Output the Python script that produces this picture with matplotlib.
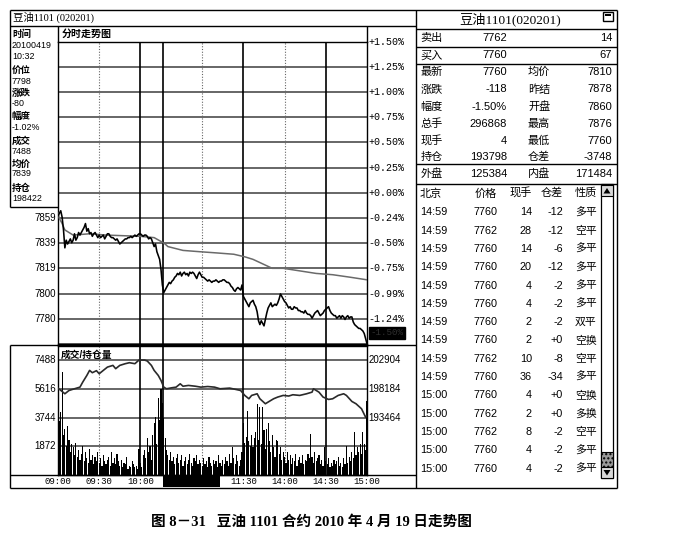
import matplotlib
matplotlib.use('Agg')
import matplotlib.pyplot as plt
from matplotlib.patches import Rectangle, Polygon

plt.rcParams['font.family'] = ['Liberation Sans', 'Noto Sans CJK SC']

# ---------------- data ----------------
contract_title = '豆油1101 (020201)'
panel_title = '豆油1101(020201)'
prev_settle = 7878

# last price, one value per minute of trading (09:00-10:15, 10:30-11:30, 13:30-15:00)
price_val = [
    7860, 7862, 7864, 7859, 7849, 7835, 7841, 7838, 7840, 7842, 7839, 7841, 7846, 7841, 7843,
    7847, 7845, 7847, 7849, 7851, 7854, 7848, 7850, 7846, 7847, 7844, 7846, 7847, 7845, 7843,
    7845, 7843, 7844, 7845, 7842, 7844, 7846, 7846, 7844, 7843, 7843, 7842, 7841, 7842, 7840,
    7838, 7839, 7840, 7841, 7842, 7842, 7843, 7843, 7844, 7843, 7844, 7845, 7844, 7845, 7846,
    7846, 7845, 7844, 7845, 7845, 7844, 7842, 7843, 7842, 7839, 7836, 7838, 7832, 7829, 7826,
    7818, 7806, 7800, 7802, 7804, 7806, 7808, 7807, 7809, 7810, 7812, 7813, 7815, 7814, 7816,
    7813, 7815, 7816, 7814, 7815, 7813, 7816, 7815, 7816, 7815, 7813, 7811, 7814, 7816, 7814,
    7812, 7812, 7811, 7810, 7809, 7810, 7809, 7808, 7809, 7809, 7810, 7809, 7808, 7809, 7809,
    7810, 7810, 7809, 7808, 7808, 7807, 7805, 7804, 7802, 7801, 7803, 7804, 7803, 7802, 7806,
    7797, 7795, 7793, 7791, 7789, 7792, 7793, 7794, 7791, 7789, 7785, 7778, 7775, 7778, 7776,
    7774, 7779, 7784, 7788, 7790, 7792, 7789, 7790, 7791, 7790, 7792, 7795, 7799, 7797, 7795,
    7793, 7792, 7790, 7788, 7789, 7787, 7787, 7789, 7788, 7788, 7786, 7786, 7785, 7785, 7784,
    7786, 7784, 7783, 7783, 7782, 7780, 7782, 7784, 7785, 7786, 7784, 7782, 7783, 7784, 7786,
    7787, 7788, 7789, 7786, 7784, 7783, 7782, 7782, 7780, 7781, 7782, 7780, 7782, 7781, 7779,
    7781, 7782, 7780, 7781, 7781, 7777, 7775, 7774, 7773, 7772, 7772, 7771, 7770, 7768, 7764, 7760,
]

# average price line
avg_min = [0, 1, 3, 5, 8, 11, 23, 35, 60, 70, 75, 78, 80, 91, 103, 116, 128, 136, 142, 150,
           156, 164, 176, 188, 200, 213, 225]
avg_val = [7862, 7858, 7854, 7849, 7847, 7845, 7846, 7845, 7844, 7843, 7840, 7838, 7836, 7833,
           7832, 7831, 7830, 7828, 7826, 7822, 7819, 7819, 7817, 7815, 7814, 7812, 7810]

# volume per minute
volume = [
    4700, 3500, 4100, 6700, 2600, 3000, 1900, 3200, 2300, 1500, 2000, 1800, 1300, 2100, 1200,
    1600, 1000, 1400, 1900, 900, 1500, 1100, 800, 1700, 1000, 1300, 700, 1200, 900, 1500,
    800, 1100, 600, 1300, 900, 700, 1000, 1200, 600, 1500, 800, 1100, 700, 1400, 900,
    600, 1000, 500, 800, 700, 1200, 400, 600, 500, 900, 700, 500, 600, 400, 1700,
    800, 500, 1300, 1600, 1100, 2400, 1500, 1900, 1000, 2600, 3400, 3800, 2000, 5000, 3600,
    5600, 4700, 3700, 2400, 1600, 1300, 1000, 1500, 900, 1200, 700, 1100, 1400, 800, 1000,
    1300, 600, 900, 1200, 700, 1000, 1400, 800, 600, 1100, 900, 1300, 700, 1000, 800,
    600, 1100, 700, 900, 500, 1200, 800, 600, 1000, 700, 900, 500, 1300, 800, 600,
    1000, 700, 1200, 900, 600, 1400, 800, 1800, 1100, 700, 1300, 900, 600, 1000, 1500,
    3400, 2100, 2500, 4200, 2200, 1900, 2600, 1800, 2400, 2800, 4600, 2300, 4400, 2000, 4400,
    2900, 1700, 3000, 3400, 2200, 1500, 2600, 1800, 1200, 2300, 2200, 1400, 1800, 1000, 1500,
    1200, 800, 1500, 1000, 1300, 700, 1100, 900, 1400, 600, 1000, 1200, 800, 1300, 700,
    1000, 900, 1400, 1100, 2700, 1200, 800, 1500, 900, 1100, 1300, 700, 1000, 600, 1800,
    900, 700, 1100, 500, 800, 600, 1000, 700, 900, 1200, 600, 800, 500, 1100, 700,
    1900, 800, 1200, 900, 1500, 1100, 2800, 1300, 1800, 1500, 2000, 1400, 2800, 2000, 1600, 4800,
]

# open interest
oi_min = [0, 3, 5, 8, 12, 16, 18, 21, 23, 25, 28, 30, 33, 36, 40, 42, 45, 49, 52, 56,
          59, 63, 65, 68, 70, 73, 75, 77, 79, 83, 86, 89, 91, 95, 100, 104, 109, 114, 118, 125,
          133, 136, 139, 141, 145, 147, 151, 153, 157, 160, 164, 168, 171, 176, 181, 185, 186, 190,
          193, 197, 200, 204, 208, 210, 214, 217, 221, 224, 225]
oi_val = [198280, 197740, 197360, 197900, 198180, 198450, 199270, 200370, 201200, 200820,
          201150, 200650, 201200, 201740, 202020, 201480, 202020, 202300, 202460, 202300,
          202900, 202900, 202740, 202020, 201200, 200370, 199550, 198450, 198180, 198350,
          198450, 199000, 198600, 198730, 198600, 198450, 198550, 198450, 198180, 198290,
          197900, 197090, 196540, 197090, 197360, 196540, 195720, 196000, 196540, 196820,
          197090, 196990, 197200, 197090, 197360, 197630, 198180, 197630, 196820, 196430,
          196540, 197090, 197360, 197090, 196100, 195720, 194900, 193510, 193800]

pct_levels = [1.5, 1.25, 1.0, 0.75, 0.5, 0.25, 0.0, -0.25, -0.5, -0.75, -1.0, -1.25, -1.5]
pct_labels = ['+1.50%', '+1.25%', '+1.00%', '+0.75%', '+0.50%', '+0.25%', '+0.00%',
              '-0.24%', '-0.50%', '-0.75%', '-0.99%', '-1.24%', '-1.50%']
price_labels = ['', '', '', '', '', '', '', '7859', '7839', '7819', '7800', '7780', '']

vol_levels = [7488, 5616, 3744, 1872]
vol_labels = ['7488', '5616', '3744', '1872']
oi_levels = [202904, 198184, 193464]

time_ticks = [0, 30, 60, 135, 165, 195, 225]
time_labels = ['09:00', '09:30', '10:00', '11:30', '14:00', '14:30', '15:00']
solid_min = [60, 76.5, 135, 195]
dotted_min = [30, 105, 165]

info_labels = ['时间', '价位', '涨跌', '幅度', '成交', '均价', '持仓']
info_values = [['20100419', '10:32'], ['7798'], ['-80'], ['-1.02%'], ['7488'], ['7839'], ['198422']]

quote_l1 = ['卖出', '买入', '最新', '涨跌', '幅度', '总手', '现手', '持仓', '外盘']
quote_v1 = ['7762', '7760', '7760', '-118', '-1.50%', '296868', '4', '193798', '125384']
quote_l2 = ['', '', '均价', '昨结', '开盘', '最高', '最低', '仓差', '内盘']
quote_v2 = ['14', '67', '7810', '7878', '7860', '7876', '7760', '-3748', '171484']

trade_head = ['北京', '价格', '现手', '仓差', '性质']
trade_time = ['14:59'] * 10 + ['15:00'] * 5
trade_price = ['7760', '7762', '7760', '7760', '7760', '7760', '7760', '7760', '7762', '7760',
               '7760', '7762', '7762', '7760', '7760']
trade_vol = ['14', '28', '14', '20', '4', '4', '2', '2', '10', '36', '4', '2', '8', '4', '4']
trade_oi = ['-12', '-12', '-6', '-12', '-2', '-2', '-2', '+0', '-8', '-34', '+0', '+0', '-2', '-2', '-2']
trade_type = ['多平', '空平', '多平', '多平', '多平', '多平', '双平', '空换', '空平', '多平',
              '空换', '多换', '空平', '多平', '多平']

caption = '图 8－31   豆油 1101 合约 2010 年 4 月 19 日走势图'

# ---------------- layout ----------------
W, H = 674, 545
fig = plt.figure(figsize=(W / 100, H / 100), dpi=100)
fig.patch.set_facecolor('white')


def box(x0, y0, x1, y1):
    return [x0 / W, 1 - y1 / H, (x1 - x0) / W, (y1 - y0) / H]


ov = fig.add_axes([0, 0, 1, 1], zorder=0)
ov.set_xlim(0, W)
ov.set_ylim(H, 0)
ov.axis('off')

CJK = ['Liberation Sans', 'Noto Sans CJK SC']
SERIF = ['Liberation Serif', 'Noto Sans CJK SC']
MONO = 'Liberation Mono'


def otext(x, y, s, size=7.5, ha='left', weight='normal', family=None, color='black'):
    ov.text(x, y, s, fontsize=size, ha=ha, va='center', fontweight=weight,
            color=color, family=family if family else CJK)


def oline(x0, y0, x1, y1, lw=1.0, color='black'):
    ov.plot([x0, x1], [y0, y1], color=color, lw=lw, solid_capstyle='butt')


# frame lines
oline(10, 9.5, 617, 9.5)
oline(10, 26, 416, 26)
oline(10, 9.5, 10, 207)
oline(10, 345, 10, 488)
oline(10, 207, 58, 207)
oline(58, 26, 58, 42)
oline(367, 26, 367, 42)
oline(10, 345, 416, 345)
oline(10, 475, 416, 475)
oline(10, 488, 617, 488)
oline(416, 9.5, 416, 488)
oline(617, 9.5, 617, 488)
for yy in [29, 47, 64, 164, 184]:
    oline(416, yy, 617, yy)

# top-left title
otext(13, 17.5, contract_title, size=7.5, family=SERIF)
otext(62, 33.5, '分时走势图', size=7.2, weight='bold')

# info panel
info_y = [(34, [46, 56.5]), (70.5, [81]), (93.5, [103.5]), (116.5, [127]),
          (141, [151]), (164, [174]), (188, [198.5])]
for lab, vals, (ly, vys) in zip(info_labels, info_values, info_y):
    otext(12, ly, lab, size=6.8, weight='bold')
    for v, vy in zip(vals, vys):
        otext(12, vy, v, size=6.4)

# ---------------- price panel ----------------
axp = fig.add_axes(box(58, 41.7, 367, 344), zorder=2)
axp.set_facecolor('none')
axp.set_xlim(0, 225)
axp.set_ylim(prev_settle * (1 - 0.015), prev_settle * (1 + 0.015))
for p in pct_levels:
    axp.axhline(prev_settle * (1 + p / 100), color='#5a5a5a', lw=1.3, zorder=1)
for m in solid_min:
    axp.axvline(m, color='black', lw=1.2, zorder=1)
for m in dotted_min:
    axp.axvline(m, color='#666666', lw=0.8, ls=(0, (1, 1.5)), zorder=1)
axp.plot(avg_min, avg_val, color='#6a6a6a', lw=1.1, zorder=3)
axp.plot(range(len(price_val)), price_val, color='black', lw=1.15, zorder=4)
axp.set_xticks([])
axp.set_yticks([])
for s in axp.spines.values():
    s.set_color('black')
    s.set_linewidth(1.0)

for p, lab, plab in zip(pct_levels, pct_labels, price_labels):
    y = prev_settle * (1 + p / 100)
    if p > -1.4:
        axp.annotate(lab, xy=(1, y), xycoords=('axes fraction', 'data'), xytext=(1.2, 0),
                     textcoords='offset points', ha='left', va='center', fontsize=7.2,
                     family=MONO, annotation_clip=False)
    else:
        axp.annotate(lab, xy=(1, y), xycoords=('axes fraction', 'data'), xytext=(2.5, 8),
                     textcoords='offset points', ha='left', va='center', fontsize=6.6,
                     family=MONO, color='#303030', annotation_clip=False,
                     bbox=dict(facecolor='black', edgecolor='black', pad=1.0))
    if plab:
        axp.annotate(plab, xy=(0, y), xycoords=('axes fraction', 'data'), xytext=(-1.5, 0),
                     textcoords='offset points', ha='right', va='center', fontsize=7,
                     annotation_clip=False)

# ---------------- volume / open interest panel ----------------
vol_top = 8400
axv = fig.add_axes(box(58, 346, 367, 475), zorder=2)
axv.set_facecolor('none')
axv.set_xlim(0, 225)
axv.set_ylim(0, vol_top)
for v in vol_levels:
    axv.axhline(v, color='#5a5a5a', lw=1.3, zorder=1)
for m in solid_min:
    axv.axvline(m, color='black', lw=1.2, zorder=1)
for m in dotted_min:
    axv.axvline(m, color='#666666', lw=0.8, ls=(0, (1, 1.5)), zorder=1)
axv.bar(range(len(volume)), volume, width=0.85, color='black', linewidth=0, zorder=2)
axv.set_xticks([])
axv.set_yticks([])
for s in axv.spines.values():
    s.set_color('black')
    s.set_linewidth(1.0)
for v, lab in zip(vol_levels, vol_labels):
    axv.annotate(lab, xy=(0, v), xycoords=('axes fraction', 'data'), xytext=(-1.5, 0),
                 textcoords='offset points', ha='right', va='center', fontsize=7,
                 annotation_clip=False)
axv.text(0.008, 0.935, '成交/持仓量', transform=axv.transAxes, fontsize=7,
         fontweight='bold', va='center', ha='left', family=CJK)

oi_per_vol = (oi_levels[0] - oi_levels[1]) / (vol_levels[0] - vol_levels[1])
oi_lo = oi_levels[2] - vol_levels[2] * oi_per_vol
oi_hi = oi_levels[2] + (vol_top - vol_levels[2]) * oi_per_vol
axo = axv.twinx()
axo.set_ylim(oi_lo, oi_hi)
axo.set_xlim(0, 225)
axo.plot(oi_min, oi_val, color='#2a2a2a', lw=1.2, zorder=3)
axo.set_yticks([])
for s in axo.spines.values():
    s.set_visible(False)
for v in oi_levels:
    axo.annotate(str(v), xy=(1, v), xycoords=('axes fraction', 'data'), xytext=(1.2, 0),
                 textcoords='offset points', ha='left', va='center', fontsize=7,
                 annotation_clip=False)

for m, lab in zip(time_ticks, time_labels):
    axv.annotate(lab, xy=(m, 0), xycoords=('data', 'axes fraction'), xytext=(0, -4.8),
                 textcoords='offset points', ha='center', va='center', fontsize=6.5,
                 family=MONO, annotation_clip=False)
ov.add_patch(Rectangle((163, 476), 57, 11, facecolor='black', edgecolor='none'))

# ---------------- right quote panel ----------------
otext(510, 19, panel_title, size=9.5, ha='center', family=SERIF)
ov.add_patch(Rectangle((603, 12), 10, 9, facecolor='white', edgecolor='black', lw=1.0))
ov.add_patch(Rectangle((605, 13.5), 6, 2, facecolor='black', edgecolor='none'))

quote_y = [38, 55.5, 72, 89.5, 107, 124, 141, 157, 174]
for l1, v1, l2, v2, yy in zip(quote_l1, quote_v1, quote_l2, quote_v2, quote_y):
    otext(420.5, yy, l1, size=8)
    otext(507, yy, v1, size=8, ha='right')
    if l2:
        otext(528, yy, l2, size=8)
    otext(612, yy, v2, size=8, ha='right')

head_y = 193.3
otext(420, head_y, trade_head[0], size=8)
otext(497, head_y, trade_head[1], size=8, ha='right')
otext(532, head_y, trade_head[2], size=8, ha='right')
otext(563, head_y, trade_head[3], size=8, ha='right')
otext(575, head_y, trade_head[4], size=8)
for i, (t, p, v, o, k) in enumerate(zip(trade_time, trade_price, trade_vol, trade_oi, trade_type)):
    yy = 212.3 + 18.31 * i
    otext(420, yy, t, size=7.8)
    otext(497, yy, p, size=7.8, ha='right')
    otext(532, yy, v, size=7.8, ha='right')
    otext(563, yy, o, size=7.8, ha='right')
    otext(575, yy, k, size=7.8)

# scrollbar
ov.add_patch(Rectangle((601, 184), 12, 294, facecolor='white', edgecolor='black', lw=0.9))
ov.add_patch(Rectangle((601, 185), 12, 11, facecolor='#d8d8d8', edgecolor='black', lw=0.8))
ov.add_patch(Polygon([[603.5, 193.5], [607, 188], [610.5, 193.5]], closed=True,
                     facecolor='black', edgecolor='none'))
ov.add_patch(Rectangle((601, 452), 12, 15, facecolor='#9a9a9a', edgecolor='black', lw=0.8,
                       hatch='....'))
ov.add_patch(Rectangle((601, 467), 12, 11, facecolor='#d8d8d8', edgecolor='black', lw=0.8))
ov.add_patch(Polygon([[603.5, 470], [607, 475.5], [610.5, 470]], closed=True,
                     facecolor='black', edgecolor='none'))

# caption
otext(311, 521.5, caption, size=10.5, ha='center', weight='bold', family=SERIF)

fig.savefig('out.png', dpi=100, facecolor='white')
